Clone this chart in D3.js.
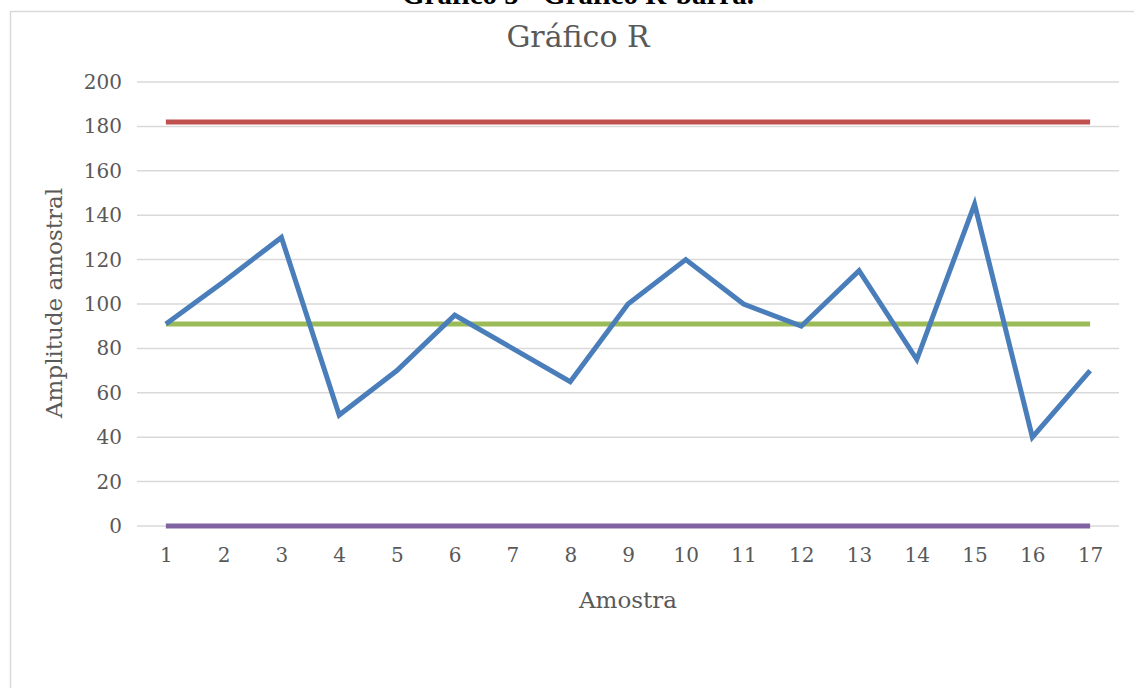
<!DOCTYPE html>
<html>
<head>
<meta charset="utf-8">
<script src="https://cdn.jsdelivr.net/npm/d3@7"></script>
<style>
  html, body { margin: 0; padding: 0; background: #fff; }
  svg { display: block; }
</style>
</head>
<body>
<svg id="chart" width="1134" height="688"></svg>
<script>
// Amostras (subgrupos) e amplitude amostral de cada uma
const amostras = [1, 2, 3, 4, 5, 6, 7, 8, 9, 10, 11, 12, 13, 14, 15, 16, 17];
const amplitude = [91, 110, 130, 50, 70, 95, 80, 65, 100, 120, 100, 90, 115, 75, 145, 40, 70];

// Limites de controle do gráfico R
const limiteSuperior = 182;
const linhaMedia = 91;
const limiteInferior = 0;

// Marcas do eixo Y
const yTicks = [0, 20, 40, 60, 80, 100, 120, 140, 160, 180, 200];

const svg = d3.select("#chart");
const plot = { left: 137, right: 1119, top: 82, bottom: 526 };
const serif = "'DejaVu Serif', 'Liberation Serif', serif";
const grey = "#595959";

// Legenda da figura (cortada no topo da página)
svg.append("text")
  .attr("x", 578).attr("y", 4)
  .attr("text-anchor", "middle")
  .attr("font-family", "'Liberation Serif', serif")
  .attr("font-weight", "bold")
  .attr("font-size", 29)
  .attr("fill", "#000")
  .text("Gráfico 5 - Gráfico R-barra.");

// Moldura da área do gráfico
svg.append("rect")
  .attr("x", 10.5).attr("y", 11.5)
  .attr("width", 1140).attr("height", 700)
  .attr("fill", "#fff")
  .attr("stroke", "#d9d9d9").attr("stroke-width", 1.5);

const x = d3.scalePoint()
  .domain(amostras)
  .range([plot.left, plot.right])
  .padding(0.5);

const y = d3.scaleLinear()
  .domain([0, 200])
  .range([plot.bottom, plot.top]);

// Linhas de grade horizontais
svg.append("g")
  .selectAll("line")
  .data(yTicks)
  .join("line")
  .attr("x1", plot.left).attr("x2", plot.right)
  .attr("y1", d => y(d)).attr("y2", d => y(d))
  .attr("stroke", "#d9d9d9").attr("stroke-width", 1.5);

// Eixo Y
const yAxis = svg.append("g")
  .attr("transform", `translate(${plot.left - 15},0)`)
  .call(d3.axisLeft(y).tickValues(yTicks).tickSize(0).tickPadding(0));
yAxis.select(".domain").remove();
yAxis.selectAll("text")
  .attr("font-family", serif).attr("font-size", 20).attr("fill", grey);

// Eixo X
const xAxis = svg.append("g")
  .attr("transform", `translate(0,${plot.bottom + 14})`)
  .call(d3.axisBottom(x).tickSize(0).tickPadding(8));
xAxis.select(".domain").remove();
xAxis.selectAll("text")
  .attr("font-family", serif).attr("font-size", 20).attr("fill", grey);

// Linhas de controle
const limites = [
  { valor: limiteSuperior, cor: "#C0504D" },
  { valor: linhaMedia, cor: "#9BBB59" },
  { valor: limiteInferior, cor: "#8064A2" }
];
const linhaConst = v => d3.line()
  .x(d => x(d))
  .y(() => y(v));

svg.append("g")
  .selectAll("path")
  .data(limites)
  .join("path")
  .attr("d", d => linhaConst(d.valor)(amostras))
  .attr("fill", "none")
  .attr("stroke", d => d.cor)
  .attr("stroke-width", 5);

// Série de amplitudes
const linhaR = d3.line()
  .x((d, i) => x(amostras[i]))
  .y(d => y(d));

svg.append("path")
  .datum(amplitude)
  .attr("d", linhaR)
  .attr("fill", "none")
  .attr("stroke", "#4A7EBB")
  .attr("stroke-width", 5)
  .attr("stroke-linejoin", "miter")
  .attr("stroke-linecap", "butt");

// Títulos
svg.append("text")
  .attr("x", 578).attr("y", 47)
  .attr("text-anchor", "middle")
  .attr("font-family", serif).attr("font-size", 30).attr("fill", grey)
  .text("Gráfico R");

svg.append("text")
  .attr("x", 628).attr("y", 608)
  .attr("text-anchor", "middle")
  .attr("font-family", serif).attr("font-size", 23).attr("fill", grey)
  .text("Amostra");

svg.append("text")
  .attr("transform", "translate(62,303) rotate(-90)")
  .attr("text-anchor", "middle")
  .attr("font-family", serif).attr("font-size", 23).attr("fill", grey)
  .text("Amplitude amostral");
</script>
</body>
</html>
